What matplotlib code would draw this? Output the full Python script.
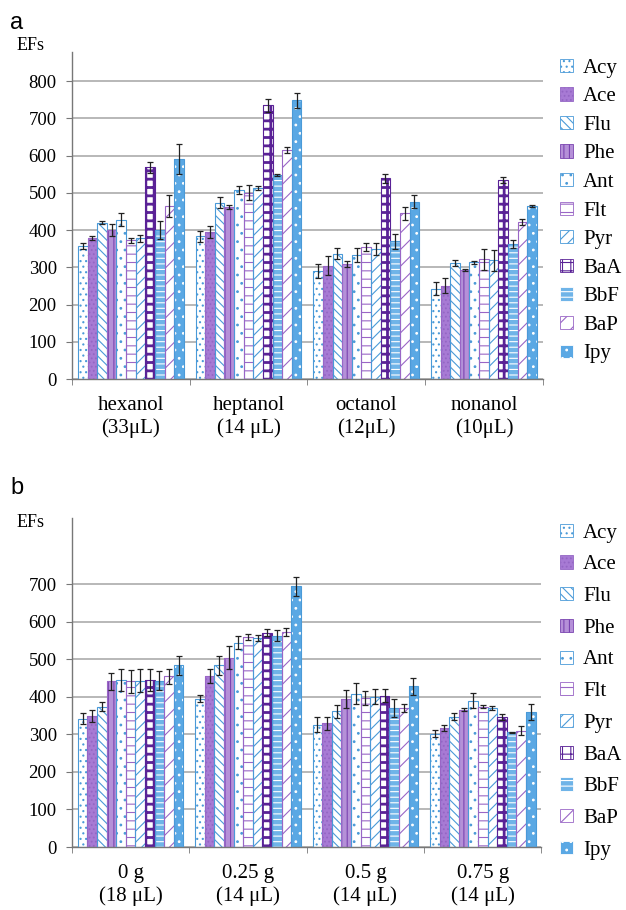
import matplotlib.pyplot as plt
import matplotlib.patches as mpatches
import numpy as np

plt.rcParams['font.family'] = ['Liberation Serif', 'DejaVu Serif']
plt.rcParams['hatch.linewidth'] = 0.8

# data
compounds = ['Acy', 'Ace', 'Flu', 'Phe', 'Ant', 'Flt', 'Pyr', 'BaA', 'BbF', 'BaP', 'Ipy']

groups_a = ['hexanol\n(33\u03bcL)', 'heptanol\n(14 \u03bcL)', 'octanol\n(12\u03bcL)', 'nonanol\n(10\u03bcL)']
# rows = solvent, cols = compound
efs_a = [
    [358, 378, 420, 400, 428, 372, 378, 569, 400, 465, 590],
    [383, 395, 473, 462, 508, 500, 513, 735, 547, 616, 749],
    [290, 304, 337, 308, 333, 355, 349, 539, 370, 445, 476],
    [243, 250, 311, 292, 313, 321, 319, 535, 362, 422, 465],
]
err_a = [
    [8, 5, 5, 15, 18, 8, 10, 15, 25, 30, 40],
    [15, 15, 15, 5, 10, 20, 5, 18, 3, 8, 20],
    [20, 25, 15, 8, 20, 10, 15, 12, 20, 18, 18],
    [18, 20, 8, 3, 3, 28, 28, 8, 10, 8, 2],
]

groups_b = ['0 g\n(18 \u03bcL)', '0.25 g\n(14 \u03bcL)', '0.5 g\n(14 \u03bcL)', '0.75 g\n(14 \u03bcL)']
efs_b = [
    [342, 349, 373, 441, 445, 441, 443, 445, 443, 455, 484],
    [395, 455, 484, 504, 544, 559, 557, 571, 563, 572, 694],
    [326, 329, 361, 394, 408, 397, 400, 403, 370, 370, 428],
    [302, 318, 347, 366, 390, 374, 370, 346, 305, 309, 359],
]
err_b = [
    [15, 15, 12, 22, 30, 30, 30, 30, 25, 20, 25],
    [10, 18, 25, 30, 18, 8, 8, 10, 15, 10, 25],
    [20, 18, 18, 25, 28, 18, 20, 18, 25, 10, 22],
    [10, 8, 10, 5, 20, 5, 5, 8, 2, 12, 22],
]

# styles: (face, hatch, hatch colour, outline, hatch linewidth)
blue = '#4a9ad8'
purple = '#9a66c6'
dpurple = '#5a2296'
styles = [
    ('white', '...', blue, blue, 0.8),
    ('#a77ad4', '....', '#9466c4', purple, 0.8),
    ('white', '\\\\\\\\', blue, blue, 0.8),
    ('#b590d8', '|||', '#7a44b0', purple, 0.8),
    ('white', '..', blue, blue, 0.8),
    ('white', '--', purple, purple, 0.8),
    ('white', '///', blue, blue, 0.8),
    ('white', '++', dpurple, dpurple, 2.0),
    ('#6fb4e8', '---', 'white', blue, 0.8),
    ('white', '//', purple, purple, 0.8),
    ('#5aa8e4', '..', 'white', blue, 0.8),
]

n = len(compounds)
bw = 0.9 / n


def draw_panel(ax, efs, err, groups, ymax, ticks):
    efs = np.array(efs)
    err = np.array(err)
    x = np.arange(len(groups))
    for i in range(n):
        face, hatch, hc, ec, hlw = styles[i]
        pos = x - 0.45 + bw * (i + 0.5)
        with plt.rc_context({'hatch.linewidth': hlw}):
            ax.bar(pos, efs[:, i], bw, color=face, hatch=hatch, edgecolor=hc, linewidth=0, zorder=2)
        ax.bar(pos, efs[:, i], bw, fill=False, edgecolor=ec, linewidth=0.8, zorder=3)
        ax.errorbar(pos, efs[:, i], yerr=err[:, i], fmt='none', ecolor='#222222',
                    elinewidth=0.9, capsize=2.5, capthick=0.9, zorder=4)
    ax.set_xlim(-0.5, len(groups) - 0.5)
    ax.set_ylim(0, ymax)
    ax.set_yticks(ticks)
    ax.yaxis.grid(True, color='#ababab', linewidth=1.2, zorder=0)
    ax.set_axisbelow(True)
    ax.set_xticks(x)
    ax.set_xticklabels(groups, fontsize=15, linespacing=1.25)
    ax.set_xticks(np.arange(len(groups) + 1) - 0.5, minor=True)
    ax.tick_params(axis='x', which='major', length=0, pad=12)
    ax.tick_params(axis='x', which='minor', length=4, color='#777777')
    ax.tick_params(axis='y', length=4, color='#777777', labelsize=13.5, pad=7)
    for s in ['top', 'right']:
        ax.spines[s].set_visible(False)
    for s in ['left', 'bottom']:
        ax.spines[s].set_color('#777777')
        ax.spines[s].set_linewidth(1.0)


fig = plt.figure(figsize=(6.26, 9.10), dpi=100)
ax1 = fig.add_axes([0.115, 0.5835, 0.752, 0.3593])
ax2 = fig.add_axes([0.115, 0.0692, 0.750, 0.3616])

draw_panel(ax1, efs_a, err_a, groups_a, 878, np.arange(0, 801, 100))
draw_panel(ax2, efs_b, err_b, groups_b, 876, np.arange(0, 701, 100))

handles = []
for f, h, hc, ec, hlw in styles:
    with plt.rc_context({'hatch.linewidth': min(hlw, 1.5)}):
        handles.append(mpatches.Patch(facecolor=f, hatch=h, edgecolor=hc, linewidth=0.6))
for ax, ytop, sp in [(ax1, 0.947, 0.46), (ax2, 0.436, 0.61)]:
    ax.legend(handles, compounds, loc='upper left', bbox_to_anchor=(0.878, ytop),
              bbox_transform=fig.transFigure, frameon=False, fontsize=15,
              handlelength=0.6, handleheight=0.6, handletextpad=0.5,
              labelspacing=sp, borderpad=0)

fig.text(0.016, 0.987, 'a', fontsize=17, family='Liberation Sans', va='top')
fig.text(0.016, 0.476, 'b', fontsize=17, family='Liberation Sans', va='top')
fig.text(0.048, 0.950, 'EFs', fontsize=13, ha='center', va='center')
fig.text(0.048, 0.426, 'EFs', fontsize=13, ha='center', va='center')

fig.savefig('out.png', dpi=100)
